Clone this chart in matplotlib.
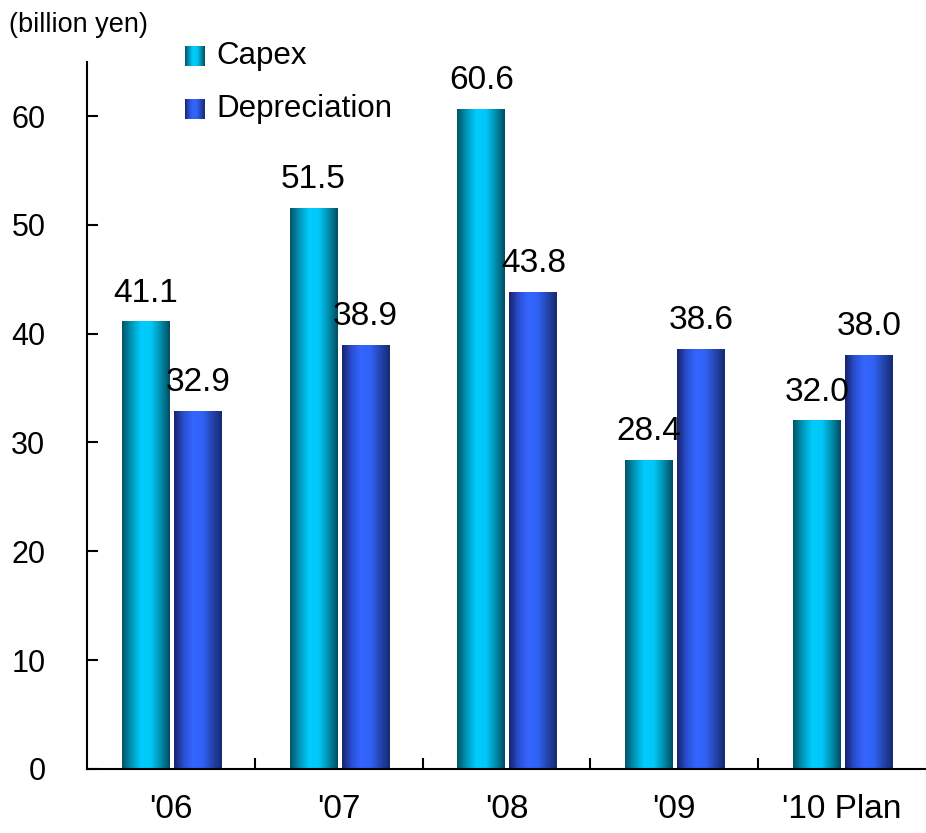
import numpy as np
import matplotlib.pyplot as plt
from matplotlib.colors import LinearSegmentedColormap

plt.rcParams['font.family'] = ['Liberation Sans', 'DejaVu Sans']

categories = ["'06", "'07", "'08", "'09", "'10 Plan"]
capex = [41.1, 51.5, 60.6, 28.4, 32.0]
depreciation = [32.9, 38.9, 43.8, 38.6, 38.0]

cmap_capex = LinearSegmentedColormap.from_list('capex', ['#005468', '#0096b8', '#00ccff', '#00c8f8', '#0090b0', '#004c60'])
cmap_dep = LinearSegmentedColormap.from_list('dep', ['#17236a', '#2a4fd0', '#3366ff', '#3062f4', '#2444b0', '#172a70'])

grad = np.linspace(0, 1, 256).reshape(1, -1)

fig = plt.figure(figsize=(9.26, 8.33), dpi=100)
ax = fig.add_axes([0.094, 0.077, 0.906, 0.849])

x = np.arange(len(categories))
w = 0.285
offs = [-0.15, 0.16]

def gbar(ax, xc, h, cmap):
    ax.imshow(grad, cmap=cmap, aspect='auto', extent=(xc - w/2, xc + w/2, 0, h),
              interpolation='bicubic', zorder=2)

for i in range(len(categories)):
    for vals, cm, off in [(capex, cmap_capex, offs[0]), (depreciation, cmap_dep, offs[1])]:
        v = vals[i]
        gbar(ax, x[i] + off, v, cm)
        ax.text(x[i] + off, v + 1.85, '%.1f' % v, ha='center', va='baseline', fontsize=24, zorder=3)

ax.set_xticks(x)
ax.set_xticklabels(categories, fontsize=24)
ax.set_xticks(np.arange(0.5, len(categories) - 0.5, 1), minor=True)
ax.tick_params(axis='x', which='major', length=0, pad=18)
ax.tick_params(axis='x', which='minor', direction='in', length=8, width=1.5)
ax.set_yticks(np.arange(0, 61, 10))
ax.tick_params(axis='y', direction='in', length=8, width=1.5, labelsize=22, pad=30)
ax.spines['top'].set_visible(False)
ax.spines['right'].set_visible(False)
ax.spines['left'].set_linewidth(1.5)
ax.spines['bottom'].set_linewidth(1.5)

# legend squares with gradients
for j, (name, cm) in enumerate([('Capex', cmap_capex), ('Depreciation', cmap_dep)]):
    yc = 65.5 - j * 4.85
    ax.imshow(grad, cmap=cm, aspect='auto', extent=(0.083, 0.2, yc - 0.9, yc + 0.9),
              interpolation='bicubic', zorder=3, clip_on=False)
    ax.text(0.27, yc, name, ha='left', va='center', fontsize=22.5)

ax.set_xlim(-0.5, len(categories) - 0.5)
ax.set_ylim(0, 65)

fig.text(0.01, 0.97, '(billion yen)', ha='left', va='center', fontsize=19.5)

fig.savefig('out.png', dpi=100)
